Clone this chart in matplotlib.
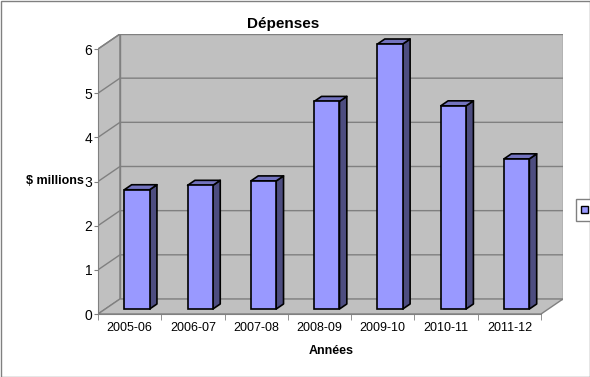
import matplotlib
matplotlib.use('Agg')
import matplotlib.pyplot as plt
from matplotlib.patches import Polygon, Patch, Rectangle

# donnees
annees = ['2005-06', '2006-07', '2007-08', '2008-09', '2009-10', '2010-11', '2011-12']
depenses = [2.7, 2.8, 2.9, 4.7, 6.0, 4.6, 3.4]
graduations = [0, 1, 2, 3, 4, 5, 6]

plt.rcParams['font.family'] = ['Liberation Sans', 'DejaVu Sans']

gris = '#C0C0C0'
trait = '#808080'
face = '#9999FF'
dessus = '#7373BF'
cote = '#4D4D80'

# profondeur 3D en unites de donnees
dx, dy = 0.347, 0.34
ymax = graduations[-1]
n = len(annees)
x_g, x_d = -0.5, n - 0.5

fig = plt.figure(figsize=(5.9, 3.77), dpi=100)
ax = fig.add_axes([98 / 590, 63 / 377, 465 / 590, 280 / 377])
ax.set_xlim(x_g, x_d + dx)
ax.set_ylim(0, ymax + dy)
ax.patch.set_visible(False)

# murs et sol
ax.add_patch(Polygon([(x_g, 0), (x_g + dx, dy), (x_g + dx, ymax + dy), (x_g, ymax)],
                     facecolor=gris, edgecolor=trait, lw=1, zorder=1))
ax.add_patch(Polygon([(x_g + dx, dy), (x_d + dx, dy), (x_d + dx, ymax + dy), (x_g + dx, ymax + dy)],
                     facecolor=gris, edgecolor=trait, lw=1, zorder=1))
ax.add_patch(Polygon([(x_g, 0), (x_d, 0), (x_d + dx, dy), (x_g + dx, dy)],
                     facecolor=gris, edgecolor=trait, lw=1, zorder=1))

# quadrillage
for g in graduations[1:]:
    ax.plot([x_g, x_g + dx, x_d + dx], [g, g + dy, g + dy], color=trait, lw=1, zorder=2)

# barres 3D
larg = 0.4
f0, bd = 1 / 3, 1 / 3
for i, v in enumerate(depenses):
    x0 = i - larg / 2 + f0 * dx
    x1 = x0 + larg
    y0 = f0 * dy
    haut = v + y0
    ax.add_patch(Polygon([(x1, y0), (x1 + bd * dx, y0 + bd * dy), (x1 + bd * dx, haut + bd * dy), (x1, haut)],
                         facecolor=cote, edgecolor='black', lw=1.2, zorder=3, joinstyle='round'))
    ax.add_patch(Polygon([(x0, haut), (x1, haut), (x1 + bd * dx, haut + bd * dy), (x0 + bd * dx, haut + bd * dy)],
                         facecolor=dessus, edgecolor='black', lw=1.2, zorder=3, joinstyle='round'))
    ax.add_patch(Rectangle((x0, y0), larg, v, facecolor=face, edgecolor='black', lw=1.2, zorder=4))

# axes
for s in ['top', 'right']:
    ax.spines[s].set_visible(False)
ax.spines['left'].set_bounds(0, ymax)
ax.spines['bottom'].set_bounds(x_g, x_d)
for s in ['left', 'bottom']:
    ax.spines[s].set_color(trait)
    ax.spines[s].set_zorder(5)

ax.set_yticks(graduations)
ax.set_yticklabels([str(g) for g in graduations], fontsize=10)
ax.tick_params(axis='y', length=3, color=trait, pad=1)
ax.set_xticks(range(n))
ax.set_xticklabels(annees, fontsize=9)
ax.set_xticks([k - 0.5 for k in range(n + 1)], minor=True)
ax.tick_params(axis='x', which='major', length=0, pad=6)
ax.tick_params(axis='x', which='minor', length=4, color=trait)

fig.text(283 / 590, 1 - 28 / 377, 'Dépenses', fontsize=11, fontweight='bold', ha='center', va='baseline')
fig.text(84 / 590, 1 - 181 / 377, '$ millions', fontsize=9, fontweight='bold', ha='right', va='center')
fig.text(331 / 590, 1 - 351 / 377, 'Années', fontsize=9, fontweight='bold', ha='center', va='center')

# legende sans nom
leg = fig.legend(handles=[Patch(facecolor=face, edgecolor='black', lw=1)], labels=[''],
                 loc='center left', bbox_to_anchor=(570 / 590, 1 - 210 / 377),
                 handlelength=0.6, handleheight=0.6, handletextpad=0, borderpad=0.5,
                 fancybox=False, framealpha=1, edgecolor=trait, fontsize=8)
leg.get_frame().set_linewidth(1)

# cadre exterieur
fig.add_artist(Rectangle((0.5 / 590, 0.5 / 377), 589 / 590, 376 / 377, transform=fig.transFigure,
                         fill=False, edgecolor=trait, lw=1))

fig.savefig('out.png', dpi=100)
